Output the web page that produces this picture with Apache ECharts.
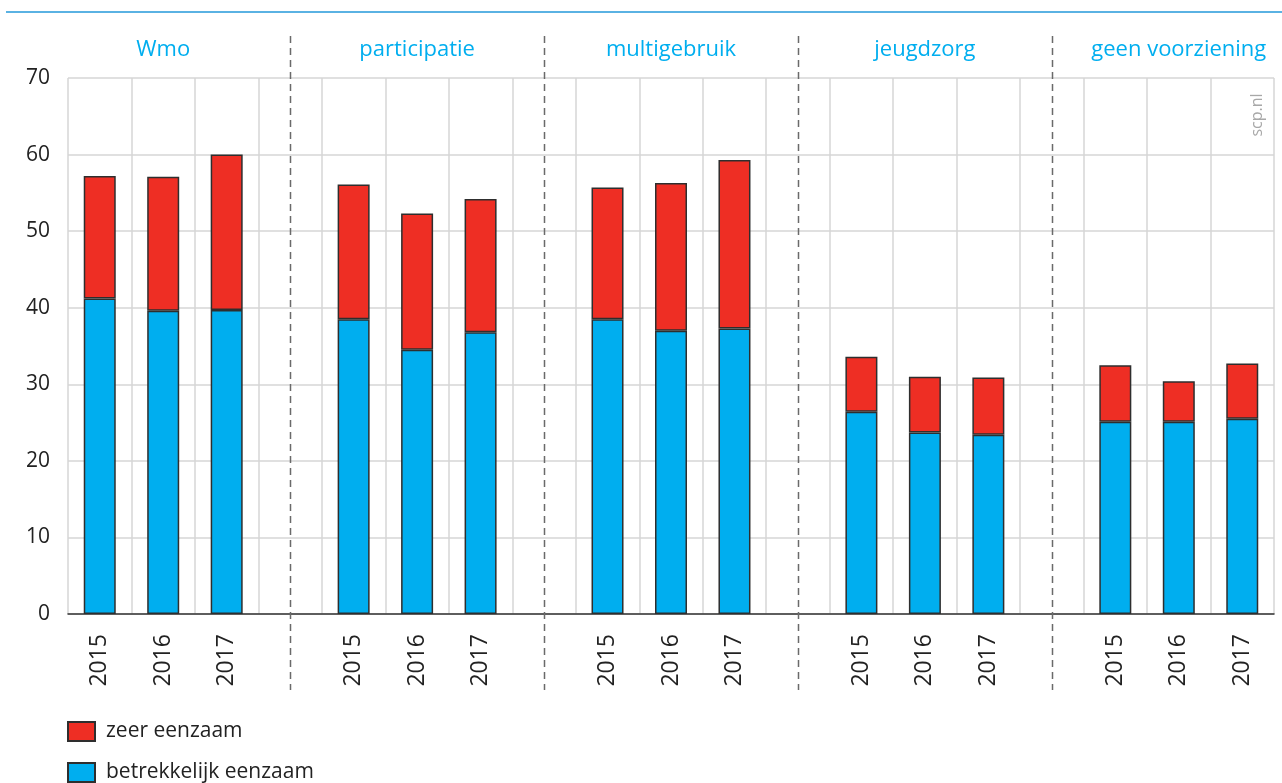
<!DOCTYPE html>
<html>
<head>
<meta charset="utf-8">
<script src="https://cdn.jsdelivr.net/npm/echarts@6/dist/echarts.min.js"></script>
<style>
  html, body { margin: 0; padding: 0; background: #fff; }
  #chart { width: 1282px; height: 783px; }
</style>
</head>
<body>
<div id="chart"></div>
<script>
// groepen en jaren
const groups = ['Wmo', 'participatie', 'multigebruik', 'jeugdzorg', 'geen voorziening'];
const years = ['2015', '2016', '2017'];
// waarden per jaar binnen elke groep (procent)
const betrekkelijk = [41.2, 39.6, 39.7, 38.5, 34.5, 36.8, 38.5, 37.0, 37.3, 26.4, 23.7, 23.4, 25.1, 25.1, 25.5];
const zeer = [16.0, 17.5, 20.3, 17.6, 17.8, 17.4, 17.2, 19.3, 22.0, 7.2, 7.3, 7.5, 7.4, 5.3, 7.2];
const yTicks = [0, 10, 20, 30, 40, 50, 60, 70];

// categorieen: 3 jaren per groep, met een lege kolom ertussen
const categories = [];
const topLabels = [];
const blankIdx = [];
const blueData = [];
const redData = [];
groups.forEach((g, gi) => {
  if (gi > 0) {
    blankIdx.push(categories.length);
    categories.push('');
    topLabels.push('');
    blueData.push('-');
    redData.push('-');
  }
  years.forEach((y, yi) => {
    categories.push(y);
    topLabels.push(yi === 1 ? g : '');
    blueData.push(betrekkelijk[gi * 3 + yi]);
    redData.push(zeer[gi * 3 + yi]);
  });
});

const font = "'Open Sans', 'Noto Sans', sans-serif";
const gridColor = '#d6d6d6';
const edge = '#2e2e2e';

// legenda: twee losse legenda's onder elkaar
function legendItem(name, top) {
  return {
    orient: 'vertical',
    left: 67,
    top: top,
    padding: 0,
    itemWidth: 27,
    itemHeight: 19,
    icon: 'rect',
    data: [name],
    textStyle: { fontSize: 21, color: '#222', fontFamily: font, padding: [0, 0, 0, 6] }
  };
}

const chart = echarts.init(document.getElementById('chart'));
const option = {
  animation: false,
  textStyle: { fontFamily: font },
  grid: { left: 68, right: 8, top: 78, bottom: 169, containLabel: false },
  legend: [
    legendItem('zeer eenzaam', 721),
    legendItem('betrekkelijk eenzaam', 762)
  ],
  xAxis: [
    {
      type: 'category',
      data: categories,
      boundaryGap: true,
      axisLine: { lineStyle: { color: '#333', width: 1.5 } },
      axisTick: {
        alignWithLabel: true,
        length: 10,
        interval: (i, v) => v !== '',
        lineStyle: { color: '#333', width: 1.5 }
      },
      axisLabel: {
        interval: 0,
        rotate: 90,
        margin: 20,
        fontSize: 23,
        color: '#222',
        fontFamily: font
      },
      splitLine: { show: true, interval: 0, lineStyle: { color: gridColor, width: 1.5 } }
    },
    {
      type: 'category',
      position: 'top',
      data: topLabels,
      boundaryGap: true,
      axisLine: { show: false },
      axisTick: { show: false },
      axisLabel: {
        interval: 0,
        margin: 17,
        fontSize: 22,
        color: '#00aeef',
        fontFamily: font
      },
      splitLine: { show: false }
    }
  ],
  yAxis: {
    type: 'value',
    min: yTicks[0],
    max: yTicks[yTicks.length - 1],
    interval: 10,
    axisLine: { show: false },
    axisTick: { show: false },
    axisLabel: { margin: 18, fontSize: 21, color: '#222', fontFamily: font },
    splitLine: { lineStyle: { color: gridColor, width: 1.5 } }
  },
  series: [
    {
      name: 'betrekkelijk eenzaam',
      type: 'bar',
      stack: 'eenzaam',
      data: blueData,
      barWidth: 32,
      itemStyle: { color: '#00aeef', borderColor: edge, borderWidth: 1.5 }
    },
    {
      name: 'zeer eenzaam',
      type: 'bar',
      stack: 'eenzaam',
      data: redData,
      barWidth: 32,
      itemStyle: { color: '#ee2e24', borderColor: edge, borderWidth: 1.5 }
    }
  ]
};
chart.setOption(option);

// bovenste lijn, scheidingslijnen tussen groepen en bronvermelding
const graphics = [
  {
    type: 'line',
    shape: { x1: 6, y1: 12, x2: 1282, y2: 12 },
    style: { stroke: '#5ab2e3', lineWidth: 2 }
  },
  {
    type: 'text',
    x: 1257,
    y: 115,
    rotation: Math.PI / 2,
    style: {
      text: 'scp.nl',
      fill: '#a8a8a8',
      font: "16px 'Open Sans', sans-serif",
      align: 'center',
      verticalAlign: 'middle'
    }
  }
];
blankIdx.forEach(i => {
  const x = Math.round(chart.convertToPixel({ xAxisIndex: 0 }, i)) + 0.5;
  graphics.push({
    type: 'line',
    shape: { x1: x, y1: 36, x2: x, y2: 690 },
    style: { stroke: '#6a6a6a', lineWidth: 1.5, lineDash: [7, 5] },
    z: 10
  });
});
chart.setOption({ graphic: graphics });
</script>
</body>
</html>
